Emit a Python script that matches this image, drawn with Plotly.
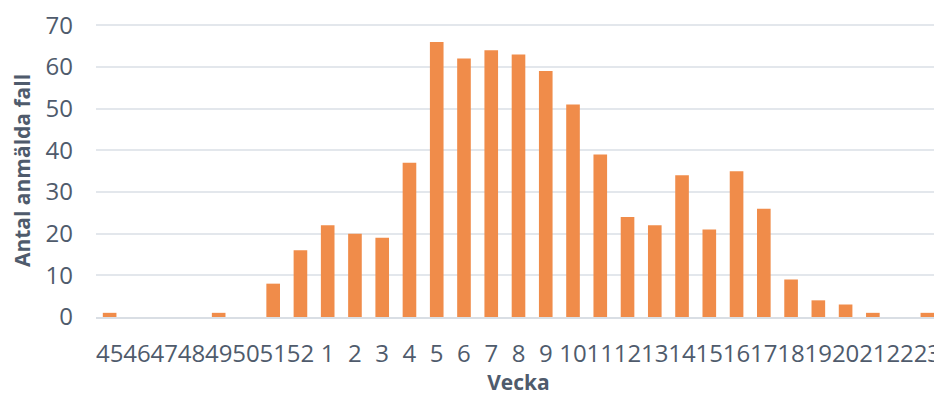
import plotly.graph_objects as go

weeks = ["45", "46", "47", "48", "49", "50", "51", "52", "1", "2", "3", "4", "5", "6", "7", "8",
         "9", "10", "11", "12", "13", "14", "15", "16", "17", "18", "19", "20", "21", "22", "23"]
cases = [1, 0, 0, 0, 1, 0, 8, 16, 22, 20, 19, 37, 66, 62, 64, 63,
         59, 51, 39, 24, 22, 34, 21, 35, 26, 9, 4, 3, 1, 0, 1]
y_ticks = [0, 10, 20, 30, 40, 50, 60, 70]

text_color = "#4F5B6C"
font_family = "Open Sans, Noto Sans, sans-serif"

fig = go.Figure()
fig.add_trace(go.Bar(
    x=weeks, y=cases,
    marker=dict(color="#F08C4A", line=dict(width=0)),
    hoverinfo="x+y",
))

# page body has an 8px default margin, so the figure is 8px smaller each way
fig.update_layout(
    width=934, height=388,
    margin=dict(l=88, r=1, t=16, b=79),
    paper_bgcolor="white", plot_bgcolor="white",
    bargap=0.5,
    showlegend=False,
    font=dict(family=font_family, color=text_color),
)
fig.update_xaxes(
    type="category", tickmode="linear", dtick=1, tickangle=0, automargin=False,
    tickfont=dict(size=24, color=text_color),
    ticklabelstandoff=14, ticklabeloverflow="allow",
    showgrid=False, showline=True, linecolor="#D9DEE4", linewidth=1.5,
    title=dict(text="<b>Vecka</b>", font=dict(size=21, color=text_color), standoff=12),
)
fig.update_yaxes(
    range=[0, 70.3], tickvals=y_ticks, automargin=False,
    tickfont=dict(size=24, color=text_color),
    ticklabelstandoff=22, ticklabeloverflow="allow",
    showgrid=True, gridcolor="#E3E7EC", gridwidth=1.5,
    zeroline=False, showline=False,
    title=dict(text="<b>Antal anmälda fall</b>", font=dict(size=21, color=text_color), standoff=11),
)

fig.write_html("out.html")
